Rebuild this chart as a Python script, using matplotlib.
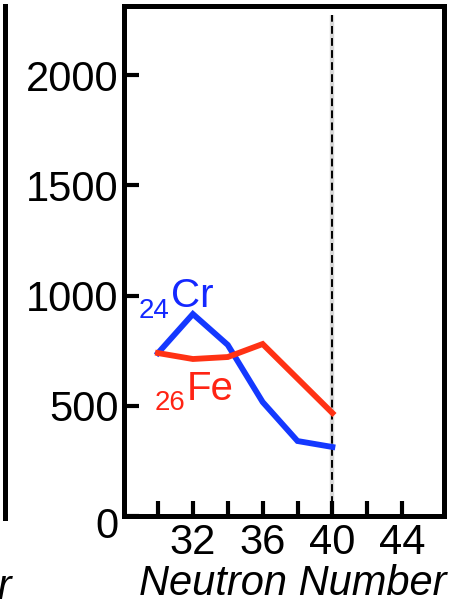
import matplotlib
matplotlib.use("Agg")
import matplotlib.pyplot as plt
from matplotlib.lines import Line2D
from matplotlib.transforms import ScaledTranslation

plt.rcParams['font.family'] = ['Liberation Sans', 'DejaVu Sans']

# Data
cr_n = [30, 32, 34, 36, 38, 40]
cr_vals = [739, 916, 776, 517, 340, 313]
fe_n = [30, 32, 34, 36, 40]
fe_vals = [739, 712, 721, 780, 467]
x_ticks = [30, 32, 34, 36, 38, 40, 42, 44]
x_ticklabels = ['', '32', '', '36', '', '40', '', '44']
y_ticks = [0, 500, 1000, 1500, 2000]
magic_n = 40

W, H = 457, 613
fig = plt.figure(figsize=(W / 100, H / 100), dpi=100)
ax = fig.add_axes([124 / W, 1 - 516 / H, (444 - 124) / W, (516 - 6) / H])

blue_line = '#1438ff'
red_line = '#ff3214'
blue_txt = '#1428ff'
red_txt = '#ff2414'

ax.plot(cr_n, cr_vals, color=blue_line, lw=4.2, solid_joinstyle='miter', zorder=3)
ax.plot(fe_n, fe_vals, color=red_line, lw=4.2, solid_joinstyle='miter', zorder=3)

ax.vlines(magic_n, 0, 2270, colors='#d8d8d8', lw=3.2, zorder=1)
ax.vlines(magic_n, 0, 2270, colors='black', lw=1.4, linestyles=(0, (4, 2.2)), zorder=2)

ax.set_xlim(28.05, 46.4)
ax.set_ylim(0, 2313)
ax.set_xticks(x_ticks)
ax.set_xticklabels(x_ticklabels)
ax.set_yticks(y_ticks)
ax.set_yticklabels([str(v) for v in y_ticks])

for s in ax.spines.values():
    s.set_linewidth(3.6)
ax.tick_params(direction='in', length=11, width=3.0, labelsize=30, pad=4)
ax.tick_params(axis='x', pad=5)

# the "0" label sits a little below the spine in the reference
lbl0 = ax.get_yticklabels()[0]
lbl0.set_transform(lbl0.get_transform() + ScaledTranslation(0, -7 / 100, fig.dpi_scale_trans))

ax.set_xlabel('Neutron Number', fontsize=30, style='italic')
ax.xaxis.set_label_coords(0.527, -0.094)

# element labels
ax.text(31.94, 946, 'Cr', color=blue_txt, fontsize=29, ha='center', va='baseline')
ax.text(29.76, 900, '24', color=blue_txt, fontsize=20, ha='center', va='baseline')
ax.text(32.98, 526, 'Fe', color=red_txt, fontsize=29, ha='center', va='baseline')
ax.text(30.68, 480, '26', color=red_txt, fontsize=20, ha='center', va='baseline')

# remnant of neighbouring panel
fig.add_artist(Line2D([5 / W, 5 / W], [1 - 518 / H, 1 - 6 / H], color='black', lw=3.6,
                      transform=fig.transFigure))
fig.text(12 / W, 1 - 599 / H, 'Neutron Number', fontsize=30, style='italic',
         ha='right', va='baseline')

fig.savefig('out.png', dpi=100)
